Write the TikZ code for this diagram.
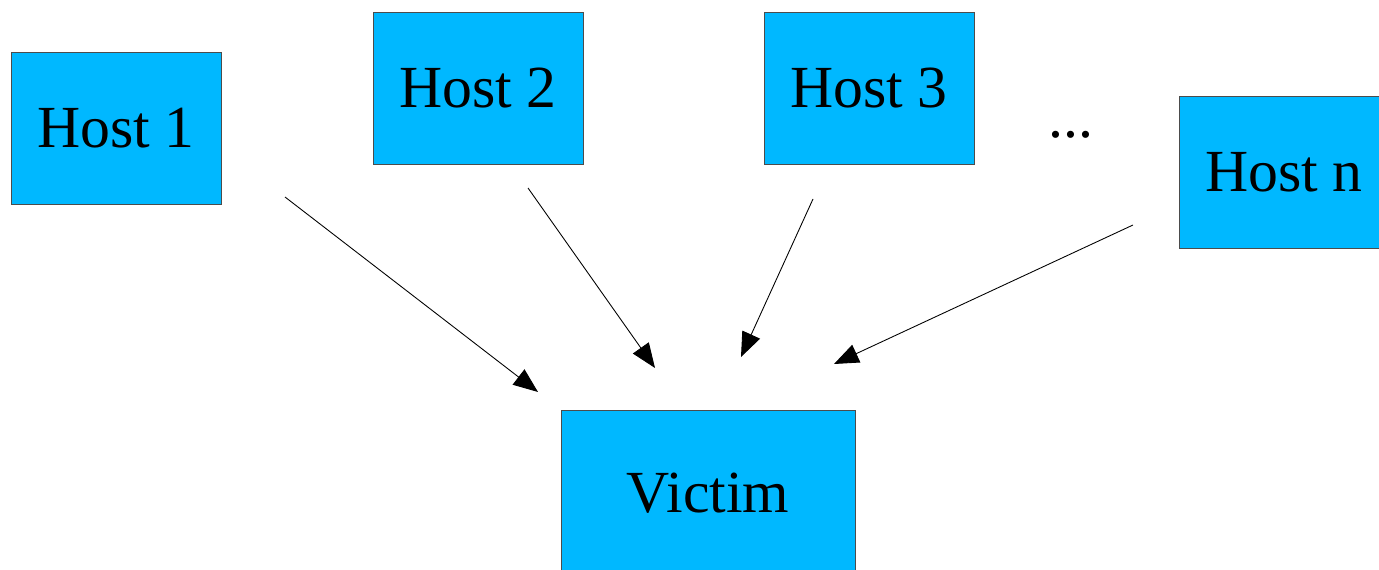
\documentclass[tikz,border=0pt]{standalone}
\usepackage{fontspec}
\setmainfont{Liberation Serif}
\usetikzlibrary{positioning,arrows}
\usetikzlibrary{arrows.meta}
\usepackage{xcolor}
\definecolor{hostblue}{RGB}{0,184,255}

\begin{document}
\begin{tikzpicture}[x=0.02cm, y=-0.02cm]
  	\useasboundingbox (0,0) rectangle (1379,570);
  	\tikzstyle{every node}=[font=\fontsize{34}{40}\selectfont, rectangle, draw=black!70, fill=hostblue, minimum width=4.2cm, minimum height=3.04cm, inner sep=0pt]
  	\draw (116,128) node (host_1) {Host 1};
  	\draw (478,88) node (host_2) {Host 2};
  	\draw (869,88.5) node (host_3) {Host 3};
  	\draw (1284,172) node (host_n) {Host n};
  	\draw (708,493) node (victim) [minimum width=5.88cm, minimum height=3.3cm] {Victim};
  	\tikzstyle{every node}=[font=\fontsize{34}{40}\selectfont, fill=none, draw=none, inner sep=0pt]
  	\draw (1071,135) node (dots) {...};
  	% free ends of the connectors
  	\coordinate (from_1) at (285,197);  \coordinate (to_1) at (538,392);
  	\coordinate (from_2) at (528,188);  \coordinate (to_2) at (655,368);
  	\coordinate (from_3) at (813,199);  \coordinate (to_3) at (741,357);
  	\coordinate (from_n) at (1133,225); \coordinate (to_n) at (834,364);
  	\draw [line width=0.5pt, -{Triangle[length=14pt, width=11pt]}] (from_1) to (to_1);
  	\draw [line width=0.5pt, -{Triangle[length=14pt, width=11pt]}] (from_2) to (to_2);
  	\draw [line width=0.5pt, -{Triangle[length=14pt, width=11pt]}] (from_3) to (to_3);
  	\draw [line width=0.5pt, -{Triangle[length=14pt, width=11pt]}] (from_n) to (to_n);
\end{tikzpicture}
\end{document}
